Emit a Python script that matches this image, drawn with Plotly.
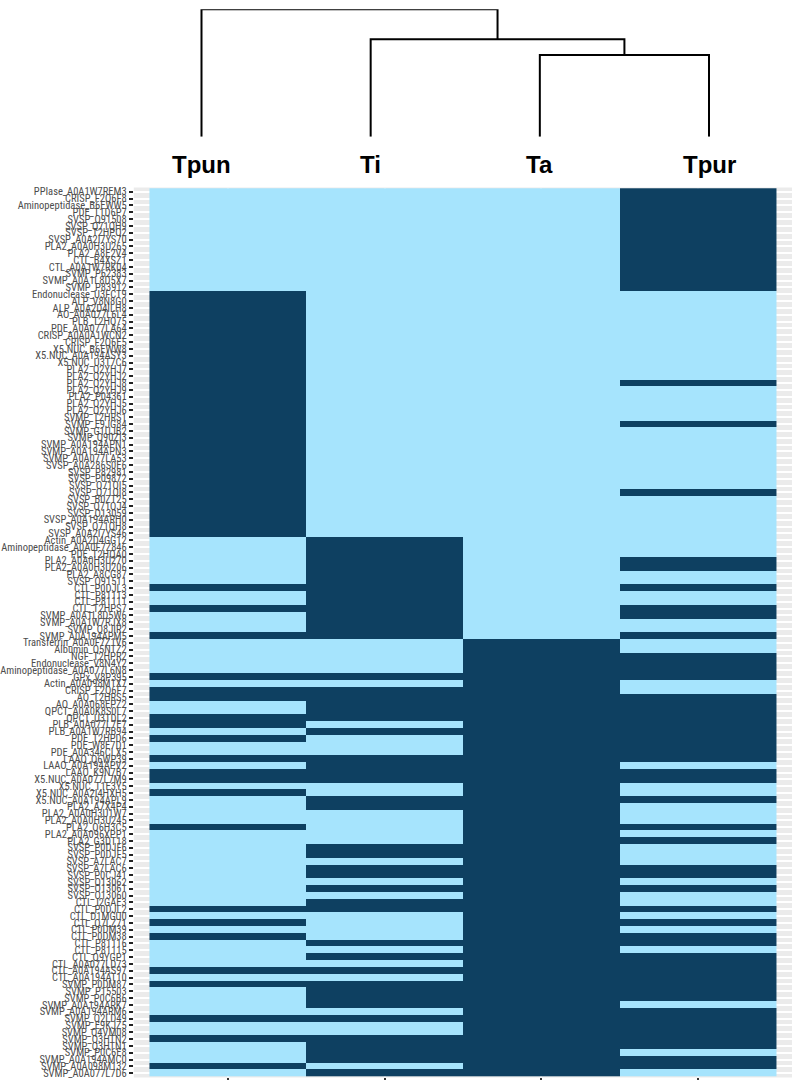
import plotly.graph_objects as go

W, H = 800, 1080

species = ["Tpun", "Ti", "Ta", "Tpur"]

proteins = [
    "PPIase_A0A1W7REM3", "CRISP_F2Q6F8", "Aminopeptidase_B6EWW5", "PDE_T1D6P7", "SVSP_Q91508",
    "SVSP_Q71QH9", "SVSP_T2HPQ2", "SVSP_A0A2I7YS70", "PLA2_A0A0H3U265", "PLA2_A8E2V4",
    "CTL_B4XSZ1", "CTL_A0A1W7RK04", "SVMP_P62383", "SVMP_A0A1L8D5X7", "SVMP_P83912",
    "Endonuclease_U3FCT9", "ALP_V8N8G0", "ALP_A0A2D4ILH8", "AO_A0A077L6L4", "PLB_T2HQ75",
    "PDE_A0A077LA64", "CRISP_A0A0A1WCN2", "CRISP_F2Q6E5", "X5.NUC_B6EWW8", "X5.NUC_A0A194ASY3",
    "X5.NUC_U3T7C6", "PLA2_Q2YHJ7", "PLA2_Q2YHJ2", "PLA2_Q2YHJ8", "PLA2_Q2YHJ9",
    "PLA2_P04361", "PLA2_Q2YHJ5", "PLA2_Q2YHJ6", "SVMP_T2HRS1", "SVMP_E9JG84",
    "SVMP_G1UJB2", "SVMP_Q90ZI3", "SVMP_A0A194APN1", "SVMP_A0A194APN3", "SVMP_A0A077LA53",
    "SVSP_A0A286S0E6", "SVSP_P82981", "SVSP_P09872", "SVSP_Q71QI5", "SVSP_Q71QI8",
    "SVSP_B0ZT25", "SVSP_Q71QJ4", "SVSP_O13059", "SVSP_A0A194ARH0", "SVSP_Q71QH8",
    "SVSP_A0A2I7YS46", "Actin_A0A2D4GG12", "Aminopeptidase_A0A0F7Z846", "PDE_T2HQA0", "PLA2_A0A0H3U270",
    "PLA2_A0A0H3U206", "PLA2_A8CG87", "SVSP_Q91511", "CTL_P0DJL3", "CTL_P81113",
    "CTL_P81111", "CTL_T2HPS7", "SVMP_A0A1L8D5W6", "SVMP_A0A1W7RJX8", "SVMP_Q8JIR2",
    "SVMP_A0A194APM5", "Transferrin_A0A0F7Z1V6", "Albumin_Q5NTZ2", "NGF_T2HPR2", "Endonuclease_V8N4Y2",
    "Aminopeptidase_A0A077L6N8", "GPx_V8P395", "Actin_A0A098M1X7", "CRISP_F2Q6F7", "AO_T2HRS5",
    "AO_A0A068EPZ2", "QPCT_A0A0K8S0L7", "QPCT_U3TDL2", "PLB_A0A077L7E7", "PLB_A0A1W7RB94",
    "PDE_T2HPD6", "PDE_W8E7D1", "PDE_A0A346CLX5", "LAAO_Q6WP39", "LAAO_A0A194APV2",
    "LAAO_K9N7B7", "X5.NUC_A0A077L7M9", "X5.NUC_T1E3Y5", "X5.NUC_A0A2I4HXH5", "X5.NUC_A0A194APL9",
    "PLA2_A7X4P4", "PLA2_A0A0H3U1W7", "PLA2_A0A0H3U245", "PLA2_Q6H3C5", "PLA2_A0A096XPP1",
    "PLA2_G3DT18", "SVSP_P0DJF6", "SVSP_P0DJF5", "SVSP_A7LAC7", "SVSP_A7LAC6",
    "SVSP_P0CJ41", "SVSP_O13062", "SVSP_O13061", "SVSP_O13060", "CTL_I2GAE3",
    "CTL_P0DJL2", "CTL_D1MGU0", "CTL_Q7LZ71", "CTL_P0DM39", "CTL_P0DM38",
    "CTL_P81116", "CTL_P81115", "CTL_Q9YGP1", "CTL_A0A077LD73", "CTL_A0A194AS97",
    "CTL_A0A194AT10", "SVMP_P0DM87", "SVMP_P15503", "SVMP_P0C6B6", "SVMP_A0A194ARK7",
    "SVMP_A0A194ARM6", "SVMP_Q2LD49", "SVMP_E9KJZ5", "SVMP_Q4VM08", "SVMP_Q3HTN2",
    "SVMP_Q3HTN1", "SVMP_P0C6E8", "SVMP_A0A194AMC0", "SVMP_A0A098M132", "SVMP_A0A077L7D6",
]

# presence (1) / absence (0) per species, rows in the order of `proteins`
Tpun = [
    0, 0, 0, 0, 0, 0, 0, 0, 0, 0,
    0, 0, 0, 0, 0, 1, 1, 1, 1, 1,
    1, 1, 1, 1, 1, 1, 1, 1, 1, 1,
    1, 1, 1, 1, 1, 1, 1, 1, 1, 1,
    1, 1, 1, 1, 1, 1, 1, 1, 1, 1,
    1, 0, 0, 0, 0, 0, 0, 0, 1, 0,
    0, 1, 0, 0, 0, 1, 0, 0, 0, 0,
    0, 1, 0, 1, 1, 0, 0, 1, 1, 0,
    1, 0, 0, 1, 0, 1, 1, 0, 1, 0,
    0, 0, 0, 1, 0, 0, 0, 0, 0, 0,
    0, 0, 0, 0, 0, 1, 0, 1, 0, 1,
    0, 0, 0, 0, 1, 0, 1, 0, 0, 0,
    0, 1, 0, 0, 1, 0, 0, 0, 1, 0,
]
Ti = [
    0, 0, 0, 0, 0, 0, 0, 0, 0, 0,
    0, 0, 0, 0, 0, 0, 0, 0, 0, 0,
    0, 0, 0, 0, 0, 0, 0, 0, 0, 0,
    0, 0, 0, 0, 0, 0, 0, 0, 0, 0,
    0, 0, 0, 0, 0, 0, 0, 0, 0, 0,
    0, 1, 1, 1, 1, 1, 1, 1, 1, 1,
    1, 1, 1, 1, 1, 1, 0, 0, 0, 0,
    0, 1, 0, 1, 1, 1, 1, 1, 0, 1,
    0, 0, 0, 1, 1, 1, 1, 0, 0, 1,
    1, 0, 0, 0, 0, 0, 1, 1, 0, 1,
    1, 0, 1, 0, 1, 1, 0, 0, 0, 0,
    1, 0, 1, 0, 1, 0, 1, 1, 1, 1,
    0, 1, 0, 0, 1, 1, 1, 1, 0, 1,
]
Ta = [
    0, 0, 0, 0, 0, 0, 0, 0, 0, 0,
    0, 0, 0, 0, 0, 0, 0, 0, 0, 0,
    0, 0, 0, 0, 0, 0, 0, 0, 0, 0,
    0, 0, 0, 0, 0, 0, 0, 0, 0, 0,
    0, 0, 0, 0, 0, 0, 0, 0, 0, 0,
    0, 0, 0, 0, 0, 0, 0, 0, 0, 0,
    0, 0, 0, 0, 0, 0, 1, 1, 1, 1,
    1, 1, 1, 1, 1, 1, 1, 1, 1, 1,
    1, 1, 1, 1, 1, 1, 1, 1, 1, 1,
    1, 1, 1, 1, 1, 1, 1, 1, 1, 1,
    1, 1, 1, 1, 1, 1, 1, 1, 1, 1,
    1, 1, 1, 1, 1, 1, 1, 1, 1, 1,
    1, 1, 1, 1, 1, 1, 1, 1, 1, 1,
]
Tpur = [
    1, 1, 1, 1, 1, 1, 1, 1, 1, 1,
    1, 1, 1, 1, 1, 0, 0, 0, 0, 0,
    0, 0, 0, 0, 0, 0, 0, 0, 1, 0,
    0, 0, 0, 0, 1, 0, 0, 0, 0, 0,
    0, 0, 0, 0, 1, 0, 0, 0, 0, 0,
    0, 0, 0, 0, 1, 1, 0, 0, 1, 0,
    0, 1, 1, 0, 0, 1, 0, 0, 1, 1,
    1, 1, 0, 0, 1, 1, 1, 1, 1, 1,
    1, 1, 1, 1, 0, 1, 1, 0, 0, 1,
    0, 0, 0, 1, 0, 1, 0, 0, 0, 1,
    1, 0, 1, 0, 0, 1, 0, 1, 0, 1,
    1, 0, 1, 1, 1, 1, 1, 1, 1, 0,
    1, 1, 1, 1, 1, 1, 0, 1, 1, 0,
]

# dendrogram: leaves in display order, merges as [left node, right node, height]
dendro_leaves = ["Tpun", "Ti", "Ta", "Tpur"]
dendro_merges = [[2, 3, 0.641], [1, 4, 0.765], [0, 5, 1.0]]

LIGHT = "#A6E4FD"
DARK = "#0E4061"

n = len(proteins)
cols = [Tpun, Ti, Ta, Tpur]
z = [[cols[c][r] for c in range(4)] for r in range(n)]
rows = list(range(1, n + 1))
xs = list(range(1, 5))


def py(px):
    return 1 - px / H


def pxx(px):
    return px / W


fig = go.Figure()
fig.add_trace(go.Heatmap(
    z=z, x=xs, y=rows,
    colorscale=[[0, LIGHT], [0.5, LIGHT], [0.5, DARK], [1, DARK]],
    zmin=0, zmax=1, showscale=False, hoverinfo="skip",
    xaxis="x", yaxis="y",
))

# dendrogram segments
node_x = {i: i + 1 for i in range(len(dendro_leaves))}
node_h = {i: 0.0 for i in range(len(dendro_leaves))}
dx, dy = [], []
for k, (a, b, h) in enumerate(dendro_merges):
    nid = len(dendro_leaves) + k
    dx += [node_x[a], node_x[a], node_x[b], node_x[b], None]
    dy += [node_h[a], h, h, node_h[b], None]
    node_x[nid] = (node_x[a] + node_x[b]) / 2
    node_h[nid] = h

fig.add_trace(go.Scatter(
    x=dx, y=dy, mode="lines", line=dict(color="black", width=2),
    xaxis="x2", yaxis="y2", hoverinfo="skip", showlegend=False,
))

# leaf labels
for i, name in enumerate(dendro_leaves):
    fig.add_annotation(
        x=i + 1, y=py(164), xref="x2", yref="paper", text=name,
        showarrow=False, xanchor="center", yanchor="middle",
        font=dict(family="Liberation Sans, Arial, sans-serif", size=24,
                  color="black", weight="bold"),
    )

# ggplot-like gray panel
fig.add_shape(type="rect", xref="x domain", yref="y domain",
              x0=0, x1=1, y0=0, y1=1, fillcolor="#EBEBEB",
              line=dict(width=0), layer="below")

panel_l, panel_r = 133.8, 792.0
panel_t, panel_b = 187.6, 1077.4
leaf1_px, leaf4_px = 201.5, 709.0
unit = (leaf4_px - leaf1_px) / 3

fig.update_layout(
    template="none",
    width=W, height=H,
    margin=dict(l=0, r=0, t=0, b=0),
    paper_bgcolor="white", plot_bgcolor="rgba(0,0,0,0)",
    showlegend=False,
    xaxis=dict(
        domain=[pxx(panel_l), pxx(panel_r)], range=[0.4, 4.6],
        tickvals=xs, showticklabels=False,
        ticks="outside", ticklen=6, tickwidth=1.5, tickcolor="#333333",
        showgrid=True, gridcolor="white", gridwidth=2,
        zeroline=False, showline=False, automargin=False, fixedrange=True,
    ),
    yaxis=dict(
        domain=[py(panel_b), py(panel_t)], range=[n + 0.6, 0.4],
        tickvals=rows, ticktext=proteins,
        ticks="outside", ticklen=4, tickwidth=2, tickcolor="#222222",
        tickfont=dict(family="Liberation Sans Narrow, Arial Narrow, Roboto Condensed, sans-serif",
                      size=10.5, color="#4D4D4D"),
        showgrid=True, gridcolor="white", gridwidth=2,
        zeroline=False, showline=False, automargin=False, fixedrange=True,
    ),
    xaxis2=dict(
        domain=[0, 1], range=[1 - leaf1_px / unit, 4 + (W - leaf4_px) / unit],
        visible=False, showgrid=False, zeroline=False, automargin=False,
        anchor="y2", fixedrange=True,
    ),
    yaxis2=dict(
        domain=[py(136.7), py(9.3)], range=[0, 1],
        visible=False, showgrid=False, zeroline=False, automargin=False,
        anchor="x2", fixedrange=True,
    ),
)

fig.write_html(
    "out.html",
    config={"displayModeBar": False},
    post_script="document.body.style.margin='0px';document.body.style.padding='0px';",
)
